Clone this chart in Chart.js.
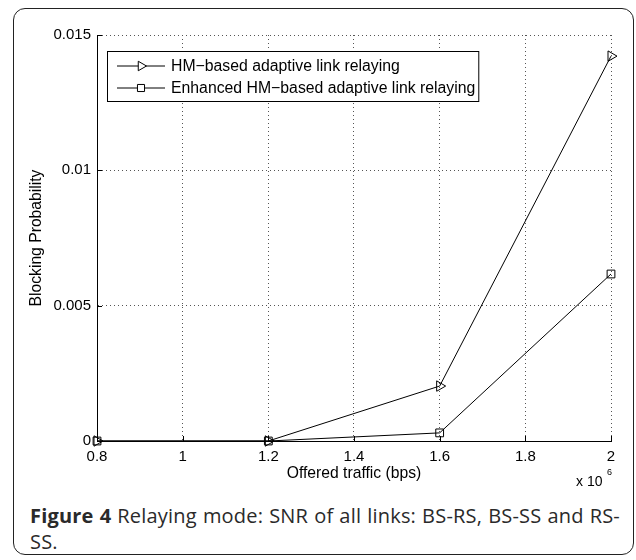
<!DOCTYPE html>
<html>
    <head>
        <meta charset="utf-8">
        <script src="https://cdn.jsdelivr.net/npm/chart.js@4/dist/chart.umd.min.js"></script>
        <style>
            body { margin: 0; background: #fff; }
            #frame {
                position: absolute; left: 13px; top: 8px;
                width: 619px; height: 545px;
                border: 1.5px solid #222; border-radius: 12px;
            }
            #wrap { position: absolute; left: 0; top: 0; width: 636px; height: 500px; }
            #caption {
                position: absolute; left: 30px; top: 503px; width: 590px;
                font-family: "Open Sans", Lato, sans-serif; font-size: 20px;
                letter-spacing: 0.2px;
                line-height: 26px; text-align: justify; color: #2a2a2a;
            }
        </style>
    </head>
    <body>
        <div id="frame"></div>
        <div id="wrap">
            <canvas id="myChart" width="636" height="500"></canvas>
        </div>
        <div id="caption"><b>Figure 4</b> Relaying mode: SNR of all links: BS-RS, BS-SS and RS-SS.</div>
    </body>

    <script>
        // offered traffic (x 10^6 bps) and blocking probability per scheme
        const traffic = [0.8, 1.2, 1.6, 2.0]
        const hmBased = [0, 0, 0.00203, 0.01422]
        const enhanced = [0, 0, 0.0003, 0.00617]
        const seriesNames = ['HM\u2212based adaptive link relaying', 'Enhanced HM\u2212based adaptive link relaying']
        const xTicks = [0.8, 1, 1.2, 1.4, 1.6, 1.8, 2]
        const xTickLabels = ['0.8', '1', '1.2', '1.4', '1.6', '1.8', '2']
        const yTicks = [0, 0.005, 0.01, 0.015]
        const yTickLabels = ['0', '0.005', '0.01', '0.015']

        const FONT = 'Liberation Sans, Arial, Helvetica, sans-serif'
        const markers = [
            { style: 'triangle', rotation: 90, radius: 6 },
            { style: 'rect', rotation: 0, radius: 5.5 }
        ]

        const toPoints = (ys) => traffic.map((x, i) => ({ x: x, y: ys[i] }))

        // inward tick marks, axis titles, exponent and the legend box
        const decorations = {
            id: 'decorations',
            afterDraw(chart) {
                const ctx = chart.ctx
                const area = chart.chartArea
                const xs = chart.scales.x
                const ys = chart.scales.y
                ctx.save()
                ctx.strokeStyle = '#000'
                ctx.lineWidth = 1
                ctx.beginPath()
                xTicks.forEach(v => {
                    const px = Math.round(xs.getPixelForValue(v)) + 0.5
                    ctx.moveTo(px, area.bottom)
                    ctx.lineTo(px, area.bottom - 5)
                })
                yTicks.forEach(v => {
                    const py = Math.round(ys.getPixelForValue(v)) + 0.5
                    ctx.moveTo(area.left, py)
                    ctx.lineTo(area.left + 5, py)
                })
                ctx.stroke()

                ctx.fillStyle = '#000'
                ctx.font = '15.7px ' + FONT
                ctx.textAlign = 'center'
                ctx.textBaseline = 'middle'
                ctx.fillText('Offered traffic (bps)', (area.left + area.right) / 2, area.bottom + 33)

                ctx.save()
                ctx.translate(area.left - 60, (area.top + area.bottom) / 2)
                ctx.rotate(-Math.PI / 2)
                ctx.fillText('Blocking Probability', 0, 0)
                ctx.restore()

                ctx.textAlign = 'left'
                ctx.font = '14px ' + FONT
                ctx.fillText('x 10', area.right - 35, area.bottom + 41)
                ctx.font = '9px ' + FONT
                ctx.fillText('6', area.right - 4, area.bottom + 32)

                // legend
                ctx.font = '15.8px ' + FONT
                const bx = area.left + 10
                const by = area.top + 16
                const textW = Math.max(...seriesNames.map(s => ctx.measureText(s).width))
                const bw = 64 + textW + 3
                const bh = 50
                ctx.fillStyle = '#fff'
                ctx.fillRect(bx, by, bw, bh)
                ctx.strokeStyle = '#000'
                ctx.strokeRect(bx + 0.5, by + 0.5, bw, bh)
                seriesNames.forEach((name, i) => {
                    const ry = by + 15 + i * 22
                    ctx.beginPath()
                    ctx.moveTo(bx + 10, ry)
                    ctx.lineTo(bx + 58, ry)
                    ctx.stroke()
                    ctx.fillStyle = '#fff'
                    Chart.helpers.drawPoint(ctx, {
                        pointStyle: markers[i].style,
                        rotation: markers[i].rotation,
                        radius: markers[i].radius - 0.5,
                        borderWidth: 1
                    }, bx + 34, ry)
                    ctx.fillStyle = '#000'
                    ctx.fillText(name, bx + 64, ry + 1)
                })
                ctx.restore()
            }
        }

        const makeSet = (label, ys, m) => ({
            label: label,
            data: toPoints(ys),
            borderColor: '#000',
            borderWidth: 1,
            backgroundColor: 'rgba(0,0,0,0)',
            pointStyle: m.style,
            pointRotation: m.rotation,
            pointRadius: m.radius,
            pointBorderColor: '#000',
            pointBackgroundColor: 'rgba(0,0,0,0)',
            pointBorderWidth: 1,
            tension: 0,
            clip: false
        })

        const config = {
            type: 'line',
            data: {
                datasets: [
                    makeSet(seriesNames[0], hmBased, markers[0]),
                    makeSet(seriesNames[1], enhanced, markers[1])
                ]
            },
            options: {
                responsive: false,
                animation: false,
                layout: { padding: { left: 0, right: 25, top: 35, bottom: 0 } },
                plugins: { legend: { display: false }, tooltip: { enabled: false } },
                scales: {
                    x: {
                        type: 'linear',
                        min: 0.8,
                        max: 2,
                        afterBuildTicks: (s) => { s.ticks = xTicks.map(v => ({ value: v })) },
                        afterFit: (s) => { s.height = 59 },
                        ticks: {
                            font: { family: FONT, size: 15 },
                            color: '#000',
                            padding: 7,
                            maxRotation: 0,
                            callback: (v) => xTickLabels[xTicks.indexOf(v)]
                        },
                        grid: { color: '#555', lineWidth: 1, drawTicks: false },
                        border: { display: true, color: '#000', width: 1, dash: [1, 3] }
                    },
                    y: {
                        min: 0,
                        max: 0.015,
                        afterBuildTicks: (s) => { s.ticks = yTicks.map(v => ({ value: v })) },
                        afterFit: (s) => { s.width = 97 },
                        ticks: {
                            font: { family: FONT, size: 15 },
                            color: '#000',
                            padding: 6,
                            callback: (v) => yTickLabels[yTicks.indexOf(v)]
                        },
                        grid: { color: '#555', lineWidth: 1, drawTicks: false },
                        border: { display: true, color: '#000', width: 1, dash: [1, 3] }
                    }
                }
            },
            plugins: [decorations]
        }

        const myChart = new Chart(document.getElementById('myChart'), config)
    </script>
</html>
